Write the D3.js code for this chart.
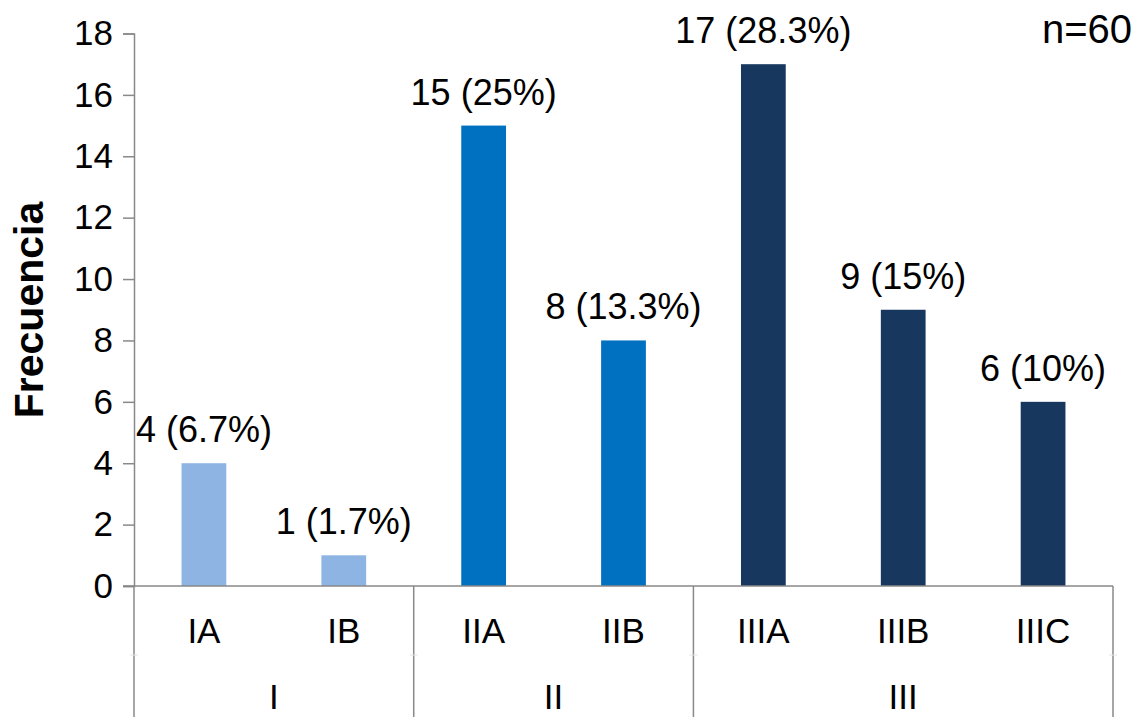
<!DOCTYPE html>
<html>
<head>
<meta charset="utf-8">
<script src="https://cdn.jsdelivr.net/npm/d3@7"></script>
<style>
  body { margin: 0; background: #fff; }
  text { font-family: "Liberation Sans", Arial, sans-serif; fill: #000; }
</style>
</head>
<body>
<div id="chart"></div>
<script>
var stages = ["IA", "IB", "IIA", "IIB", "IIIA", "IIIB", "IIIC"];
var groups = ["I", "I", "II", "II", "III", "III", "III"];
var counts = [4, 1, 15, 8, 17, 9, 6];
var pctLabels = ["6.7%", "1.7%", "25%", "13.3%", "28.3%", "15%", "10%"];
var groupNames = ["I", "II", "III"];
var groupColors = ["#8DB4E2", "#0070C0", "#17375E"];
var yTicks = [0, 2, 4, 6, 8, 10, 12, 14, 16, 18];

var width = 1136, height = 717;
var axisColor = "#898989";

var svg = d3.select("#chart").append("svg")
    .attr("width", width)
    .attr("height", height);

var xScale = d3.scaleBand()
    .domain(stages)
    .range([134, 1113])
    .paddingInner(0.68)
    .paddingOuter(0.34);

var yScale = d3.scaleLinear()
    .domain([0, 18])
    .range([586, 33.5]);

var color = d3.scaleOrdinal().domain(groupNames).range(groupColors);

// y axis
var yAxis = svg.append("g")
    .attr("transform", "translate(134,0)")
    .call(d3.axisLeft(yScale).tickValues(yTicks).tickSize(11).tickPadding(10));
yAxis.select(".domain").attr("stroke", axisColor).attr("stroke-width", 1.5);
yAxis.selectAll(".tick line").attr("stroke", axisColor).attr("stroke-width", 1.5);
yAxis.selectAll(".tick text")
    .style("font-size", "35px")
    .style("font-family", "'Liberation Sans', Arial, sans-serif")
    .attr("fill", "#000");

// y axis title
svg.append("text")
    .attr("transform", "translate(43,310) rotate(-90)")
    .attr("text-anchor", "middle")
    .style("font-size", "41px")
    .style("font-weight", "bold")
    .text("Frecuencia");

// bars
svg.selectAll(".bar")
    .data(counts)
    .enter().append("rect")
    .attr("class", "bar")
    .attr("x", function (d, i) { return xScale(stages[i]); })
    .attr("y", function (d) { return yScale(d); })
    .attr("width", xScale.bandwidth())
    .attr("height", function (d) { return yScale(0) - yScale(d); })
    .attr("fill", function (d, i) { return color(groups[i]); });

// data labels
svg.selectAll(".label")
    .data(counts)
    .enter().append("text")
    .attr("class", "label")
    .attr("x", function (d, i) { return xScale(stages[i]) + xScale.bandwidth() / 2; })
    .attr("y", function (d) { return yScale(d) - 21; })
    .attr("text-anchor", "middle")
    .style("font-size", "36px")
    .text(function (d, i) { return d + " (" + pctLabels[i] + ")"; });

// baseline
svg.append("line")
    .attr("x1", 123).attr("x2", 1113)
    .attr("y1", yScale(0)).attr("y2", yScale(0))
    .attr("stroke", axisColor).attr("stroke-width", 1.5);

// category labels (first level)
svg.selectAll(".cat")
    .data(stages)
    .enter().append("text")
    .attr("class", "cat")
    .attr("x", function (d) { return xScale(d) + xScale.bandwidth() / 2; })
    .attr("y", 643)
    .attr("text-anchor", "middle")
    .style("font-size", "35px")
    .text(function (d) { return d; });

// group labels and separators (second level)
var step = xScale.step();
var groupInfo = groupNames.map(function (g) {
    var idx = stages.filter(function (s, i) { return groups[i] === g; });
    var x0 = xScale(idx[0]) - xScale.paddingOuter() * step;
    return { name: g, x0: x0, x1: x0 + idx.length * step };
});

var edges = [groupInfo[0].x0].concat(groupInfo.map(function (g) { return g.x1; }));
svg.selectAll(".sep")
    .data(edges)
    .enter().append("line")
    .attr("class", "sep")
    .attr("x1", function (d) { return d; })
    .attr("x2", function (d) { return d; })
    .attr("y1", yScale(0))
    .attr("y2", height)
    .attr("stroke", axisColor).attr("stroke-width", 1.5);

// faint level divider marks
svg.selectAll(".lvl")
    .data(edges)
    .enter().append("line")
    .attr("class", "lvl")
    .attr("x1", function (d) { return d - 4; })
    .attr("x2", function (d) { return d + 4; })
    .attr("y1", 655).attr("y2", 655)
    .attr("stroke", "#e4e4e4").attr("stroke-width", 1);

svg.selectAll(".grp")
    .data(groupInfo)
    .enter().append("text")
    .attr("class", "grp")
    .attr("x", function (d) { return (d.x0 + d.x1) / 2; })
    .attr("y", 709)
    .attr("text-anchor", "middle")
    .style("font-size", "35px")
    .text(function (d) { return d.name; });

// n label
svg.append("text")
    .attr("x", 1132)
    .attr("y", 43)
    .attr("text-anchor", "end")
    .style("font-size", "40px")
    .text("n=60");
</script>
</body>
</html>
